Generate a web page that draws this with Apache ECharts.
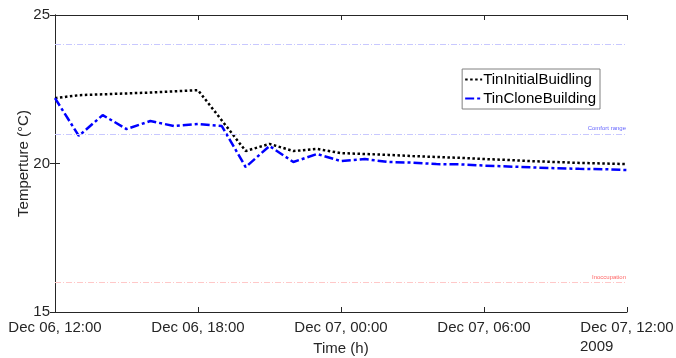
<!DOCTYPE html>
<html>
<head>
<meta charset="utf-8">
<script src="https://cdn.jsdelivr.net/npm/echarts@6/dist/echarts.min.js"></script>
<style>
  html,body{margin:0;padding:0;background:#fff;}
  #chart{width:676px;height:358px;}
</style>
</head>
<body>
<div id="chart"></div>
<script>
// hours since Dec 06, 12:00
let hours=[0,1,2,3,4,5,6,7,8,9,10,11,12,13,14,15,16,17,18,19,20,21,22,23,24];
let tinInitial=[22.2,22.3,22.33,22.36,22.39,22.43,22.47,21.45,20.42,20.66,20.42,20.49,20.35,20.32,20.29,20.25,20.22,20.19,20.15,20.12,20.08,20.05,20.02,20.0,19.98];
let tinClone=[22.2,20.93,21.63,21.16,21.43,21.26,21.33,21.26,19.88,20.59,20.05,20.32,20.08,20.15,20.05,20.03,19.98,19.97,19.93,19.9,19.87,19.84,19.82,19.81,19.78];
let xTickLabels=['Dec 06, 12:00','Dec 06, 18:00','Dec 07, 00:00','Dec 07, 06:00','Dec 07, 12:00'];
let refLevels=[24,21,16];
let refLabels=['','Comfort range','Inoccupation'];
let refColors=['#c8c8ff','#c8c8ff','#ffc8c8'];
let refTextColors=['#6666ff','#6666ff','#ff6666'];

let font='Liberation Sans, Arial, sans-serif';
let axisColor='#262626';

function pairs(vals){
    let out=[];
    for(let i=0;i<hours.length;i++){
        out.push([hours[i],vals[i]]);
    }
    return out;
}

let markData=[];
for(let i=0;i<refLevels.length;i++){
    markData.push({
        yAxis:refLevels[i],
        lineStyle:{color:refColors[i],type:[6,2,1,2],width:1},
        label:{show:refLabels[i]!=='',formatter:refLabels[i],position:'insideEndTop',
            color:refTextColors[i],fontSize:6,fontFamily:font,distance:[1,2]}
    });
}

function ticks(){
    return {show:true,inside:true,length:5,lineStyle:{color:axisColor,width:1}};
}

let chart=echarts.init(document.getElementById('chart'));
chart.setOption({
    animation:false,
    grid:{left:55,right:49,top:15,bottom:46,outerBoundsMode:'none'},
    textStyle:{fontFamily:font},
    legend:{
        right:76,top:69,orient:'vertical',
        itemWidth:17,itemHeight:10,itemGap:4,
        padding:[3,4,3,2],
        borderColor:'#808080',borderWidth:1,
        itemStyle:{opacity:0},
        textStyle:{fontSize:15,color:'#000',fontFamily:font,padding:[0,0,0,-4]},
        data:['TinInitialBuidling','TinCloneBuilding']
    },
    xAxis:[{
        type:'value',min:0,max:24,interval:6,
        name:'Time (h)',nameLocation:'middle',nameGap:29,nameMoveOverlap:false,
        nameTextStyle:{fontSize:15,color:axisColor,fontFamily:font},
        axisLine:{lineStyle:{color:axisColor,width:1}},
        axisTick:ticks(),
        axisLabel:{fontSize:15,color:axisColor,margin:8,fontFamily:font,
            formatter:function(v){return xTickLabels[v/6];}},
        splitLine:{show:false}
    },{
        type:'value',min:0,max:24,interval:6,position:'top',
        axisLine:{lineStyle:{color:axisColor,width:1}},
        axisTick:ticks(),
        axisLabel:{show:false},splitLine:{show:false}
    }],
    yAxis:[{
        type:'value',min:15,max:25,interval:5,
        name:'Temperture (°C)',nameLocation:'middle',nameGap:24,nameMoveOverlap:false,
        nameTextStyle:{fontSize:15,color:axisColor,fontFamily:font},
        axisLine:{show:true,lineStyle:{color:axisColor,width:1}},
        axisTick:ticks(),
        axisLabel:{fontSize:15,color:axisColor,margin:5,fontFamily:font},
        splitLine:{show:false}
    },{
        type:'value',min:15,max:25,interval:5,position:'right',
        axisLine:{show:true,lineStyle:{color:axisColor,width:1}},
        axisTick:ticks(),
        axisLabel:{show:false},splitLine:{show:false}
    }],
    graphic:[{
        type:'text',left:580,top:339,
        style:{text:'2009',fontSize:15,fill:axisColor,fontFamily:font}
    }],
    series:[{
        name:'TinInitialBuidling',type:'line',data:pairs(tinInitial),
        symbol:'none',
        lineStyle:{color:'#000',width:2.5,type:[2.5,2.5],cap:'butt'},
        itemStyle:{color:'#000'},
        markLine:{silent:true,symbol:'none',data:markData}
    },{
        name:'TinCloneBuilding',type:'line',data:pairs(tinClone),
        symbol:'none',
        lineStyle:{color:'#0000ff',width:2.5,type:[9,3,3,3],cap:'butt'},
        itemStyle:{color:'#0000ff'}
    }]
});
</script>
</body>
</html>
